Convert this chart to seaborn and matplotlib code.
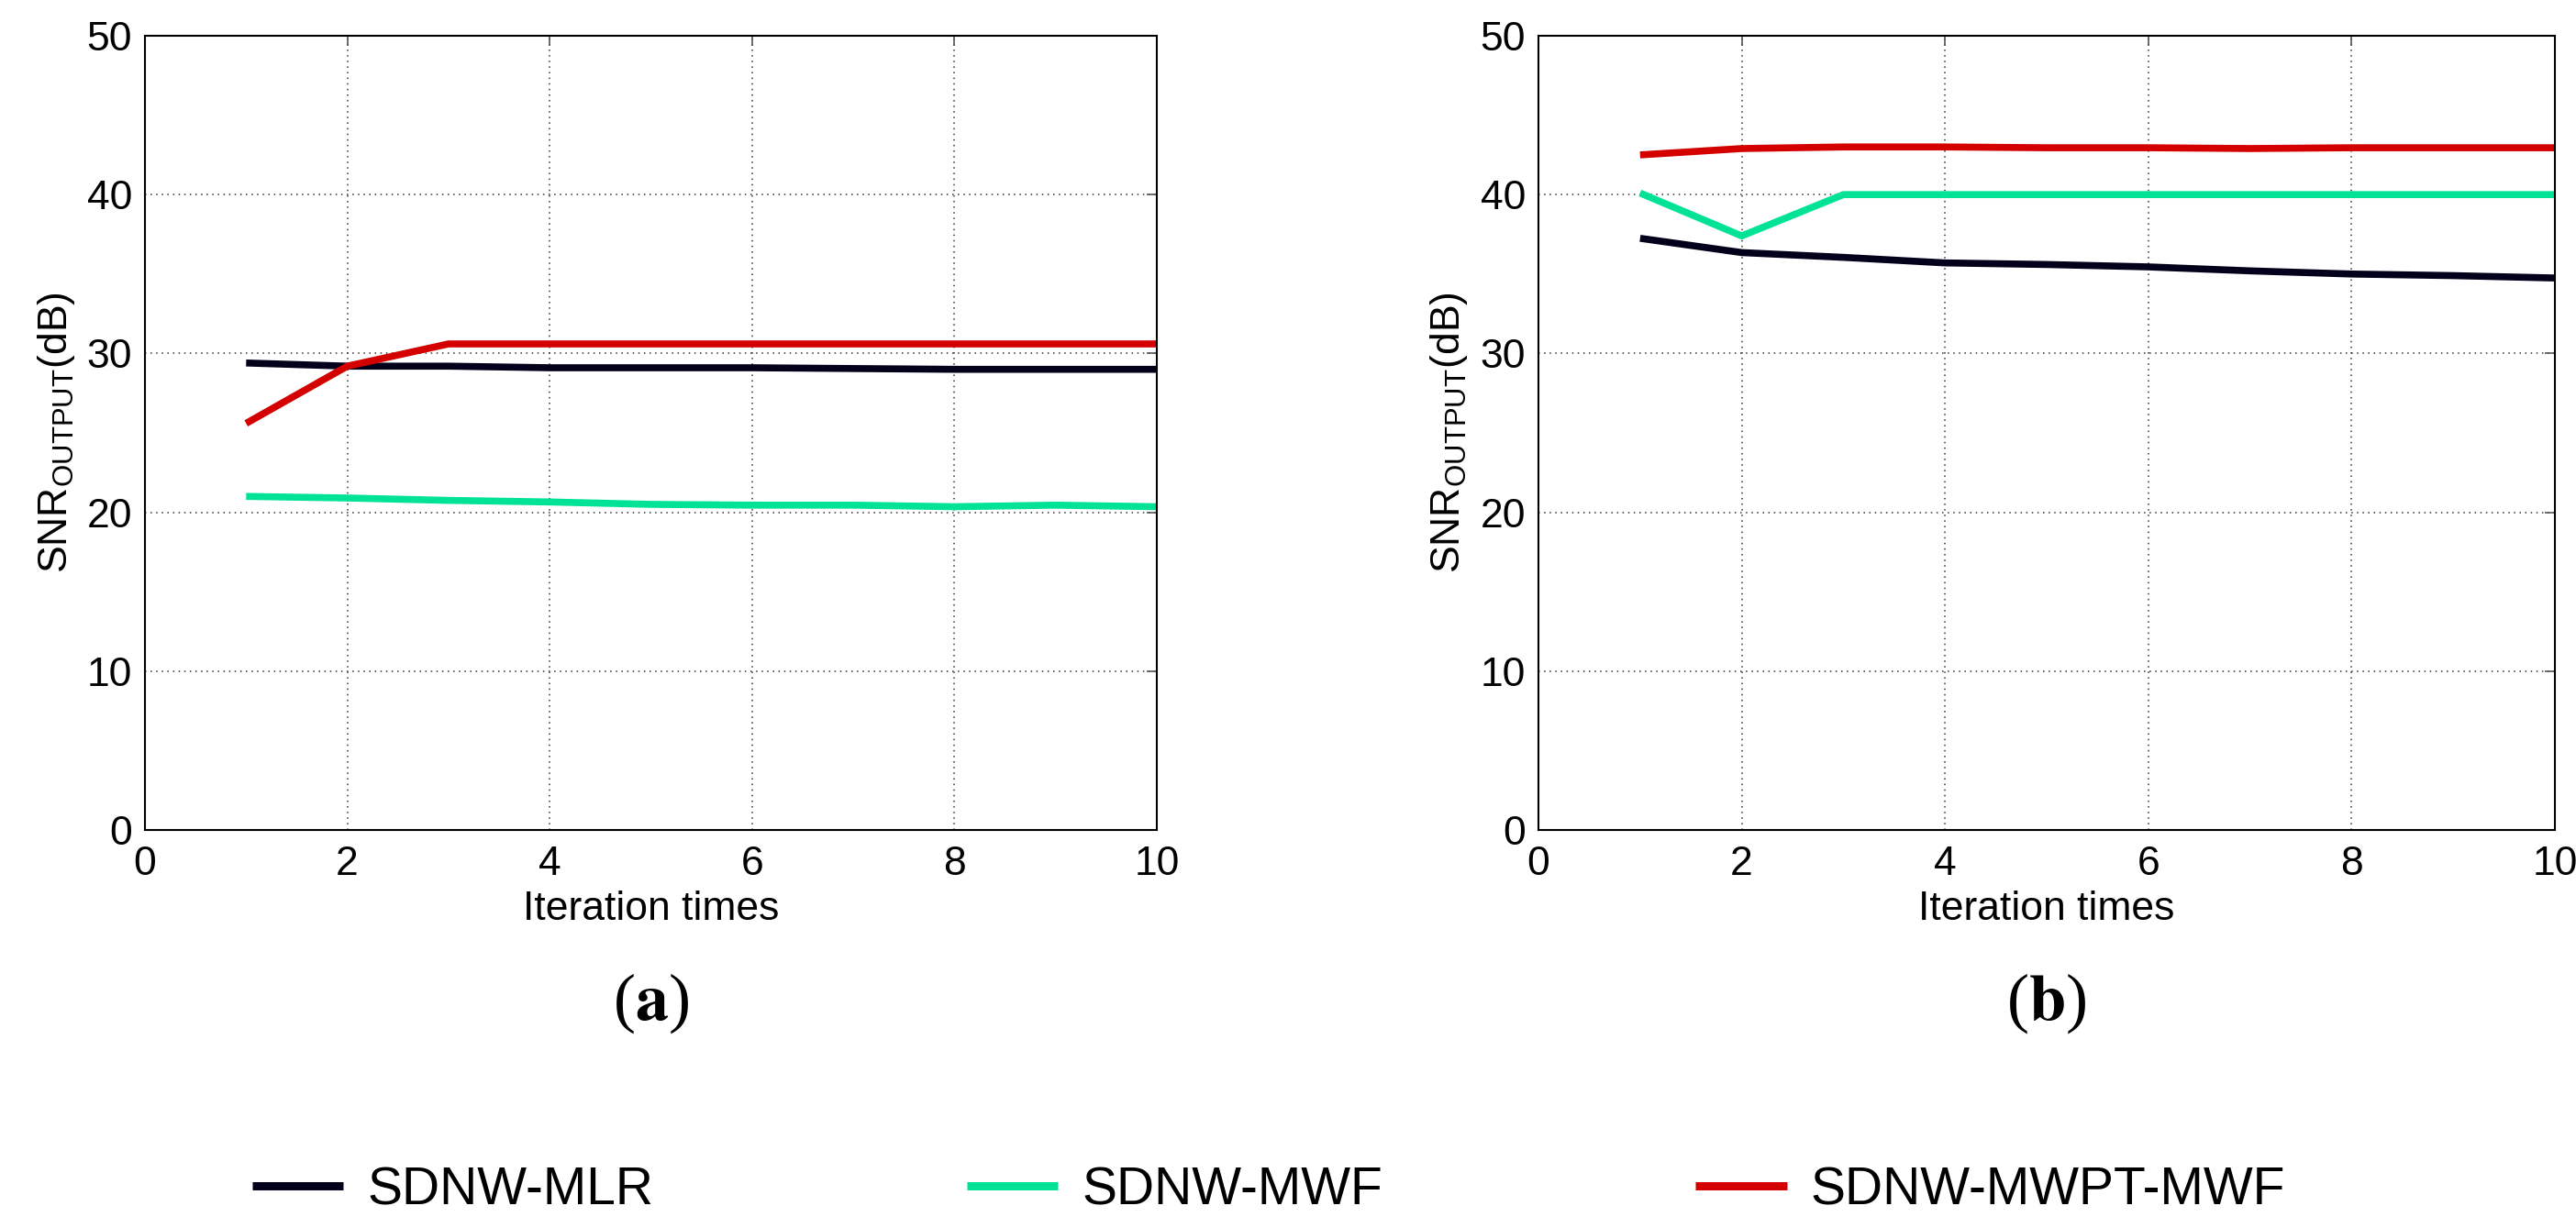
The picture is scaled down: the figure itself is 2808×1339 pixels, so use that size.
import numpy as np
import pandas as pd
import seaborn as sns
import matplotlib.pyplot as plt

# 数据
iterations = [1, 2, 3, 4, 5, 6, 7, 8, 9, 10]
methods = ['SDNW-MLR', 'SDNW-MWF', 'SDNW-MWPT-MWF']

# (a)
mlr_a = [29.4, 29.2, 29.2, 29.1, 29.1, 29.1, 29.05, 29.0, 29.0, 29.0]
mwf_a = [21.0, 20.9, 20.75, 20.65, 20.5, 20.45, 20.45, 20.35, 20.45, 20.35]
mwpt_a = [25.6, 29.2, 30.6, 30.6, 30.6, 30.6, 30.6, 30.6, 30.6, 30.6]

# (b)
mlr_b = [37.25, 36.35, 36.05, 35.7, 35.6, 35.45, 35.2, 35.0, 34.9, 34.75]
mwf_b = [40.1, 37.4, 40.0, 40.0, 40.0, 40.0, 40.0, 40.0, 40.0, 40.0]
mwpt_b = [42.5, 42.9, 43.0, 43.0, 42.95, 42.95, 42.9, 42.95, 42.95, 42.95]

colors = {'SDNW-MLR': '#03001c', 'SDNW-MWF': '#00e396', 'SDNW-MWPT-MWF': '#d40000'}


def to_long(series):
    rows = []
    for name, vals in zip(methods, series):
        for it, v in zip(iterations, vals):
            rows.append({'Iteration': it, 'SNR': v, 'Method': name})
    return pd.DataFrame(rows)


df_a = to_long([mlr_a, mwf_a, mwpt_a])
df_b = to_long([mlr_b, mwf_b, mwpt_b])

sns.set_style('white')
plt.rcParams['font.family'] = ['Liberation Sans', 'DejaVu Sans']
plt.rcParams['mathtext.fontset'] = 'custom'
plt.rcParams['mathtext.rm'] = 'Liberation Sans'
plt.rcParams['text.color'] = 'black'
plt.rcParams['axes.labelcolor'] = 'black'
plt.rcParams['lines.solid_capstyle'] = 'butt'

fig = plt.figure(figsize=(28.08, 13.39), dpi=100)
W, H = 2808, 1339
ax_a = fig.add_axes([158 / W, 1 - 905 / H, (1261 - 158) / W, (905 - 39) / H])
ax_b = fig.add_axes([1677 / W, 1 - 905 / H, (2785 - 1677) / W, (905 - 39) / H])

for ax, df, tag in [(ax_a, df_a, 'a'), (ax_b, df_b, 'b')]:
    sns.lineplot(data=df, x='Iteration', y='SNR', hue='Method', palette=colors,
                 hue_order=methods, linewidth=5.5, ax=ax, legend=False)
    ax.set_xlim(0, 10)
    ax.set_ylim(0, 50)
    ax.set_xticks([0, 2, 4, 6, 8, 10])
    ax.set_yticks([0, 10, 20, 30, 40, 50])
    ax.grid(True, linestyle=(0, (1, 3)), color='#333333', linewidth=1.1)
    ax.tick_params(direction='in', length=8, width=1.2, labelsize=32,
                   top=True, right=True, colors='#555555', labelcolor='black')
    ax.tick_params(axis='x', pad=12)
    ax.tick_params(axis='y', pad=10)
    for s in ax.spines.values():
        s.set_color('black')
        s.set_linewidth(1.5)
    ax.set_xlabel('Iteration times', fontsize=32, labelpad=6)
    ax.set_ylabel(r'SNR$_{\mathrm{OUTPUT}}$(dB)', fontsize=32, labelpad=8)
    ax.text(0.5, -0.218, r'($\mathbf{' + tag + r'}$)', transform=ax.transAxes,
            ha='center', va='center', fontsize=52, family='Liberation Serif',
            math_fontfamily='stix', color='black')

handles = [plt.Line2D([], [], color=colors[m], linewidth=9 / 1.389,
                      solid_capstyle='butt') for m in methods]
fig.legend(handles, methods, loc='center', bbox_to_anchor=(0.4925, 1 - 1298 / H),
           ncol=3, frameon=False, fontsize=41, handlelength=1.75,
           handletextpad=0.45, columnspacing=6.0)

fig.savefig('out.png', dpi=100)
